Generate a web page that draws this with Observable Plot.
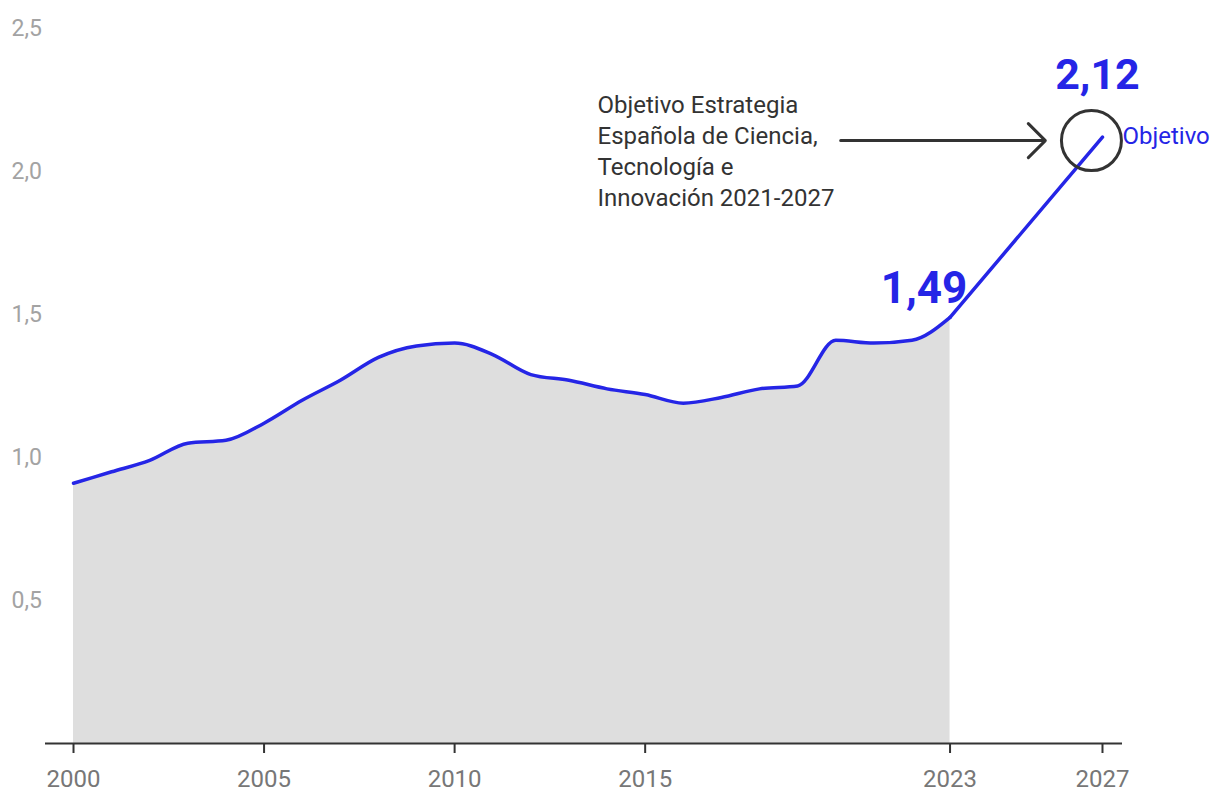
<!DOCTYPE html>
<html>
<head>
<meta charset="utf-8">
<script src="https://cdn.jsdelivr.net/npm/d3@7"></script>
<script src="https://cdn.jsdelivr.net/npm/@observablehq/plot@0.6"></script>
<style>
  html, body { margin: 0; padding: 0; background: #fff; }
  #chart { width: 1220px; height: 812px; }
</style>
</head>
<body>
<div id="chart"></div>
<script>
// Data: R&D spending (% of GDP), Spain
const years  = [2000, 2001, 2002, 2003, 2004, 2005, 2006, 2007, 2008, 2009, 2010, 2011, 2012, 2013, 2014, 2015, 2016, 2017, 2018, 2019, 2020, 2021, 2022, 2023, 2027];
const values = [0.91, 0.95, 0.99, 1.05, 1.06, 1.12, 1.20, 1.27, 1.35, 1.39, 1.40, 1.36, 1.29, 1.27, 1.24, 1.22, 1.19, 1.21, 1.24, 1.25, 1.41, 1.40, 1.41, 1.49, 2.12];
const lastActualYear = 2023;
const xTickValues = [2000, 2005, 2010, 2015, 2023, 2027];
const yTickValues = [0.5, 1.0, 1.5, 2.0, 2.5];
const annotationText = "Objetivo Estrategia\nEspañola de Ciencia,\nTecnología e\nInnovación 2021-2027";
const targetLabel = "Objetivo";
const annotationPos = [{x: 2013.75, y: 2.078}];
const circlePos = [{x: 2026.71, y: 2.108}];
const arrowPos = [{x1: 2020.13, x2: 2025.5, y: 2.108}];

const blue = "#2525e6";
const fmt = d => d.toFixed(2).replace(".", ",");
const fmtTick = d => d.toFixed(1).replace(".", ",");

const data = years.map((year, i) => ({year, value: values[i]}));
const actual = data.filter(d => d.year <= lastActualYear);
const projection = data.filter(d => d.year >= lastActualYear);
const last = data.filter(d => d.year === lastActualYear);
const target = data.filter(d => d.year === years[years.length - 1]);

const chart = Plot.plot({
  width: 1220,
  height: 812,
  marginLeft: 45,
  marginRight: 98,
  marginTop: 28,
  marginBottom: 69,
  style: {fontFamily: "Roboto, sans-serif", background: "#fff", overflow: "visible"},
  x: {domain: [1999.265, 2027.525]},
  y: {domain: [0, 2.5]},
  marks: [
    Plot.areaY(actual, {x: "year", y: "value", fill: "#dedede", curve: "monotone-x"}),
    Plot.ruleY([0], {stroke: "#333", strokeWidth: 2}),
    Plot.axisX({ticks: xTickValues, tickFormat: d => String(d), tickSize: 10, tickPadding: 16,
      stroke: "#333", strokeWidth: 2, fill: "#777", fontSize: 24, label: null}),
    Plot.axisY({ticks: yTickValues, tickFormat: fmtTick, tickSize: 0, tickPadding: 34,
      textAnchor: "start", fill: "#a3a3a3", fontSize: 23, label: null}),
    Plot.lineY(actual, {x: "year", y: "value", stroke: blue, strokeWidth: 3.5, curve: "monotone-x"}),
    Plot.lineY(projection, {x: "year", y: "value", stroke: blue, strokeWidth: 3.5, curve: "linear", strokeLinecap: "round"}),
    Plot.text(last, {x: "year", y: "value", text: d => fmt(d.value), dx: -26, dy: -28,
      fontSize: 44, fontWeight: "bold", fill: blue}),
    Plot.text(target, {x: "year", y: "value", text: d => fmt(d.value), dx: -5, dy: -62,
      fontSize: 43, fontWeight: "bold", fill: blue}),
    Plot.text(target, {x: "year", y: "value", text: () => targetLabel, dx: 20, dy: -1,
      textAnchor: "start", fontSize: 24, fill: blue}),
    Plot.dot(circlePos, {x: "x", y: "y", r: 30, stroke: "#333", strokeWidth: 3, fill: "none"}),
    Plot.arrow(arrowPos, {x1: "x1", x2: "x2", y1: "y", y2: "y", stroke: "#333", strokeWidth: 3,
      headAngle: 90, headLength: 12}),
    Plot.text(annotationPos, {x: "x", y: "y", text: () => annotationText, textAnchor: "start",
      lineAnchor: "middle", fontSize: 24, lineHeight: 1.29, fill: "#333"})
  ]
});
document.getElementById("chart").appendChild(chart);
</script>
</body>
</html>
